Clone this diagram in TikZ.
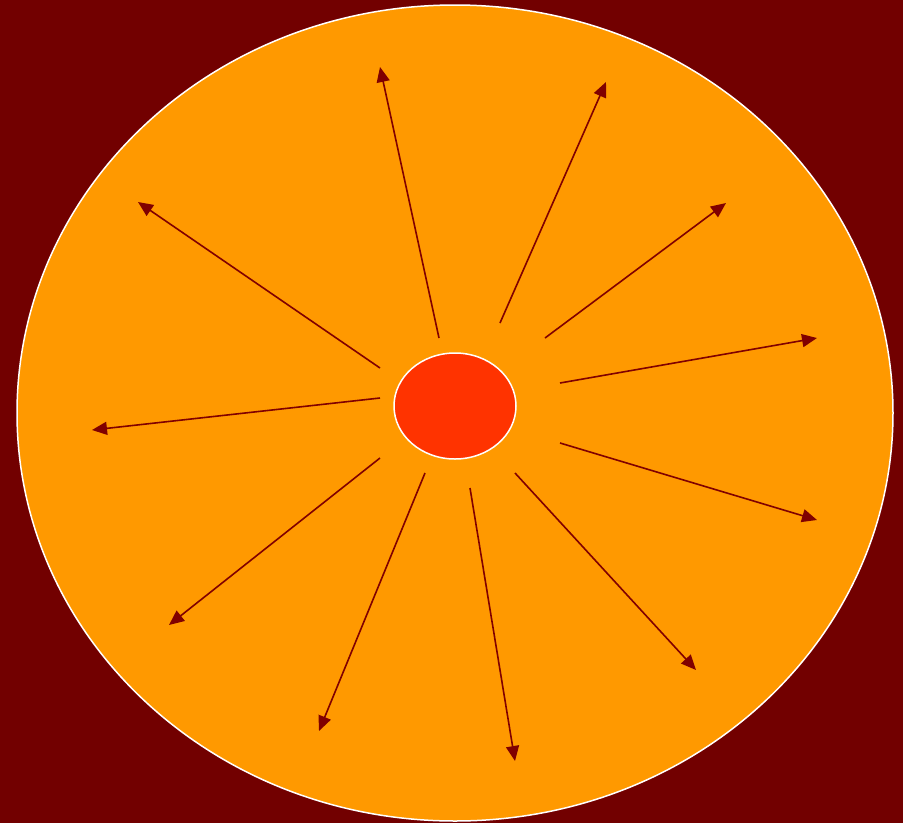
\documentclass[tikz,border=0pt]{standalone}
\usetikzlibrary{arrows.meta,shapes.geometric}
\definecolor{bgred}{HTML}{720000}
\definecolor{sunorange}{HTML}{FF9900}
\definecolor{corered}{HTML}{FF3300}
\definecolor{rayred}{HTML}{800000}
\tikzset{
  ray/.style={draw=rayred, line width=1.6pt, -{Triangle[length=15pt,width=13pt]}},
}
\begin{document}
\begin{tikzpicture}[x=1pt,y=-1pt]
\fill[bgred] (0,0) rectangle (903,823);
\useasboundingbox (0,0) rectangle (903,823);
\node[ellipse, draw=white, line width=1.5pt, fill=sunorange, minimum width=876pt, minimum height=816pt, inner sep=0pt] (outer) at (455,413) {};
\node[ellipse, draw=white, line width=1.5pt, fill=corered, minimum width=122pt, minimum height=106pt, inner sep=0pt] (core) at (455,406) {};
\coordinate (s1) at (439,338); \coordinate (e1) at (380,67);
\coordinate (s2) at (500,323); \coordinate (e2) at (606,82);
\coordinate (s3) at (545,338); \coordinate (e3) at (726,203);
\coordinate (s4) at (560,383); \coordinate (e4) at (817,338);
\coordinate (s5) at (560,443); \coordinate (e5) at (817,520);
\coordinate (s6) at (515,473); \coordinate (e6) at (696,670);
\coordinate (s7) at (470,488); \coordinate (e7) at (515,761);
\coordinate (s8) at (425,473); \coordinate (e8) at (319,731);
\coordinate (s9) at (380,458); \coordinate (e9) at (169,625);
\coordinate (s10) at (380,398); \coordinate (e10) at (92,430);
\coordinate (s11) at (380,368); \coordinate (e11) at (138,202);
\foreach \i in {1,...,11} { \draw[ray] (s\i) -- (e\i); }
\end{tikzpicture}
\end{document}
